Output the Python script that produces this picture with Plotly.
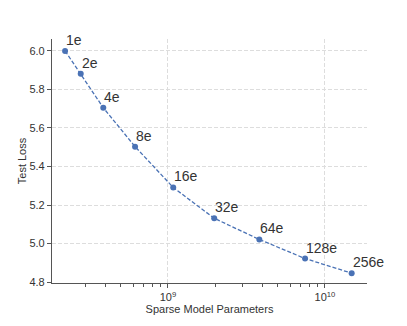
import math
import plotly.graph_objects as go

params = [2.21e8, 2.78e8, 3.87e8, 6.17e8, 1.08e9, 1.97e9, 3.82e9, 7.47e9, 1.48e10]
loss = [6.0, 5.881, 5.705, 5.503, 5.291, 5.131, 5.021, 4.922, 4.846]
labels = ["1e", "2e", "4e", "8e", "16e", "32e", "64e", "128e", "256e"]
yticks = [4.8, 5.0, 5.2, 5.4, 5.6, 5.8, 6.0]

color = "#4a72b5"
fig = go.Figure()
fig.add_trace(go.Scatter(
    x=params, y=loss, mode="lines+markers",
    line=dict(color=color, width=1.3, dash="4px,2px"),
    marker=dict(color=color, size=6),
    showlegend=False, hoverinfo="skip"))
for xv, yv, t in zip(params, loss, labels):
    fig.add_annotation(x=math.log10(xv), y=yv, xref="x", yref="y", text=t, showarrow=False,
                       xanchor="left", yanchor="bottom", xshift=-1, yshift=1,
                       font=dict(size=14, color="#333333"))

axis_common = dict(showline=True, linecolor="#555555", linewidth=1.2,
                   ticks="outside", tickcolor="#555555", ticklen=4,
                   gridcolor="#dddddd", griddash="4px,2px", gridwidth=1,
                   zeroline=False, tickfont=dict(size=11, color="#333333"))
fig.update_xaxes(type="log", range=[8.261, 10.268],
                 tickvals=[1e9, 1e10], ticktext=["10<sup>9</sup>", "10<sup>10</sup>"],
                 minor=dict(ticks="outside", ticklen=3, tickcolor="#555555", showgrid=False,
                            tickvals=[3e8, 4e8, 5e8, 6e8, 7e8, 8e8, 9e8,
                                      2e9, 3e9, 4e9, 5e9, 6e9, 7e9, 8e9, 9e9]),
                 title=dict(text="Sparse Model Parameters", font=dict(size=11, color="#333333"), standoff=0),
                 **axis_common)
fig.update_yaxes(range=[4.795, 6.062], tickvals=yticks, tickformat=".1f",
                 title=dict(text="Test Loss", font=dict(size=11, color="#333333"), standoff=0),
                 **axis_common)
fig.update_layout(width=407, height=326, margin=dict(l=52, r=40, t=39, b=43),
                  paper_bgcolor="white", plot_bgcolor="white",
                  font=dict(family="Liberation Sans, Arial, sans-serif"))
fig.write_html("out.html")
